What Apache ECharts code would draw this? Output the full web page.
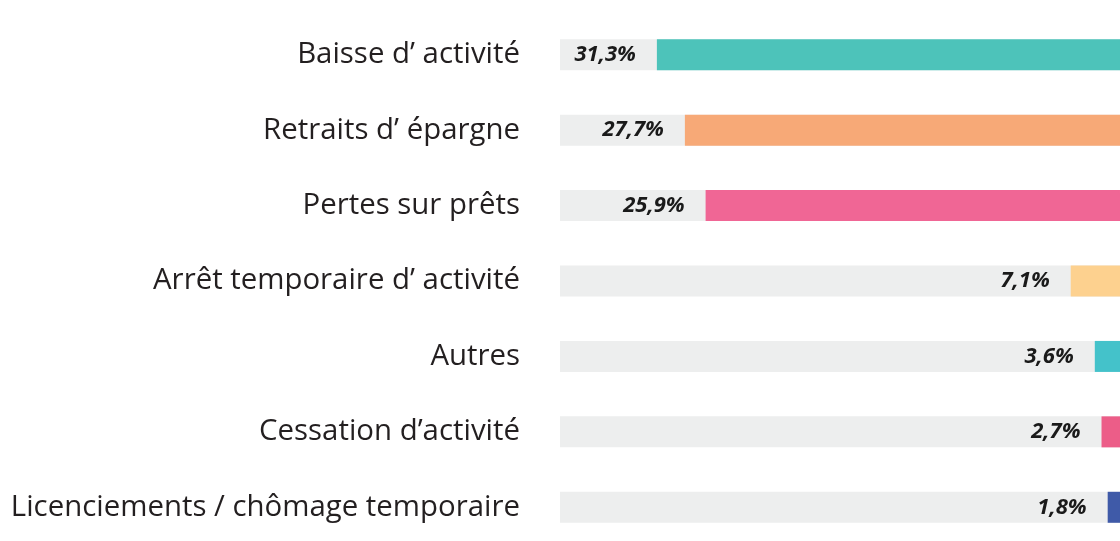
<!DOCTYPE html>
<html><head><meta charset="utf-8">
<script src="https://cdn.jsdelivr.net/npm/echarts@6/dist/echarts.min.js"></script>
<style>html,body{margin:0;padding:0;background:#fff;overflow:hidden}#c{width:1120px;height:560px}</style>
</head><body><div id="c"></div>
<script>
const categories = ["Baisse d\u2019 activité","Retraits d\u2019 épargne","Pertes sur prêts","Arrêt temporaire d\u2019 activité","Autres","Cessation d\u2019activité","Licenciements / chômage temporaire"];
const values = [31.3, 27.7, 25.9, 7.1, 3.6, 2.7, 1.8];
// bar lengths as drawn in the picture, in % of the grey track
const barLengths = [82.7, 77.7, 74.0, 8.8, 4.5, 3.3, 2.2];
const colors = ["#4DC3BA","#F7A977","#F06695","#FDD18F","#44C2CA","#EC5D88","#3F5AA8"];

const chart = echarts.init(document.getElementById('c'));
chart.setOption({
  animation:false,
  grid:{left:560,right:0,top:17,height:528},
  xAxis:{type:'value',min:0,max:100,inverse:true,show:false},
  yAxis:{type:'category',data:categories,inverse:true,
    axisLine:{show:false},axisTick:{show:false},
    axisLabel:{margin:40,fontFamily:'Open Sans',fontSize:29.4,color:'#231F20'}},
  series:[{type:'bar',barWidth:31,
    showBackground:true,backgroundStyle:{color:'#EDEEEE'},
    data:barLengths.map((v,i)=>({value:v,itemStyle:{color:colors[i]}})),
    label:{show:true,position:'left',distance:21,
      fontFamily:'Open Sans',fontSize:22,fontWeight:'bold',fontStyle:'italic',color:'#1A1A1A',
      formatter:p=>values[p.dataIndex].toFixed(1).replace('.',',')+'%'}
  }]
});
</script></body></html>
